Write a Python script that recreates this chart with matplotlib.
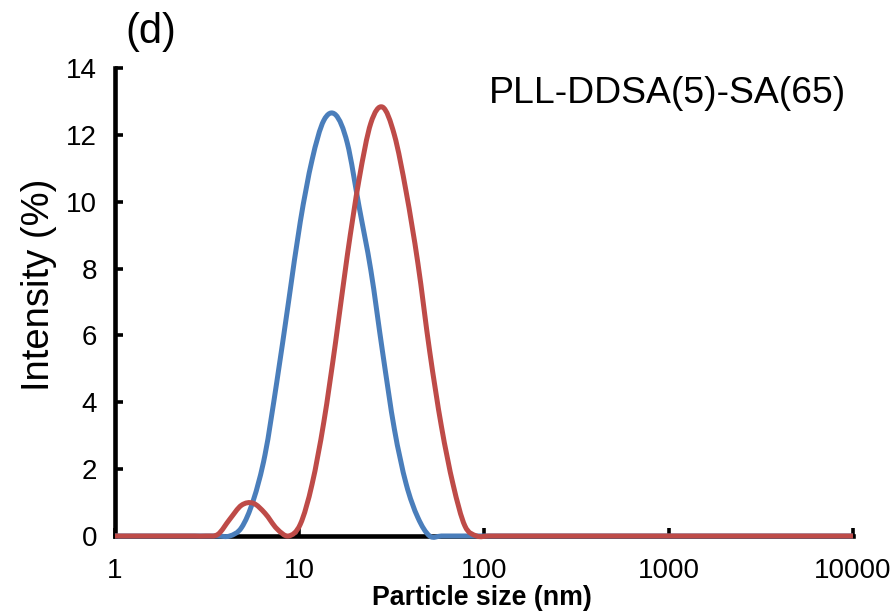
import numpy as np
import matplotlib.pyplot as plt
from matplotlib.path import Path
from matplotlib.patches import PathPatch
from matplotlib.transforms import Bbox, TransformedBbox

plt.rcParams['font.family'] = ['Liberation Sans', 'DejaVu Sans']

# DLS size bins (nm)
size_nm = [0.9649, 1.117, 1.294, 1.499, 1.736, 2.010, 2.328, 2.696, 3.122, 3.615,
           4.187, 4.849, 5.615, 6.503, 7.531, 8.721, 10.10, 11.70, 13.54, 15.69,
           18.17, 21.04, 24.36, 28.21, 32.67, 37.84, 43.82, 50.75, 58.77, 68.06,
           78.82, 91.28, 105.7, 122.4, 141.8, 164.2, 190.1, 220.2, 255.0, 295.3,
           342.0, 396.1, 458.7, 531.2, 615.1, 712.4, 825.0, 955.4, 1106, 1281,
           1484, 1718, 1990, 2305, 2669, 3091, 3580, 4145, 4801, 5560,
           6439, 7456, 8635, 10000]

# intensity (%) - blue series
blue = [0, 0, 0, 0, 0, 0, 0, 0, 0, 0,
        0, 0.25, 1.06, 2.43, 4.6, 7.0, 9.4, 11.25, 12.43, 12.6,
        11.75, 9.85, 7.95, 5.5, 3.2, 1.56, 0.55, 0, 0, 0,
        0, 0, 0, 0, 0, 0, 0, 0, 0, 0,
        0, 0, 0, 0, 0, 0, 0, 0, 0, 0,
        0, 0, 0, 0, 0, 0, 0, 0, 0, 0,
        0, 0, 0, 0]

# intensity (%) - red series
red = [0, 0, 0, 0, 0, 0, 0, 0, 0, 0.05,
       0.5, 0.92, 0.98, 0.68, 0.22, 0, 0.35, 1.55, 3.4, 5.8,
       8.4, 10.67, 12.35, 12.83, 12.0, 10.3, 8.16, 5.53, 3.28, 1.53,
       0.3, 0, 0, 0, 0, 0, 0, 0, 0, 0,
       0, 0, 0, 0, 0, 0, 0, 0, 0, 0,
       0, 0, 0, 0, 0, 0, 0, 0, 0, 0,
       0, 0, 0, 0]

xticks = [1, 10, 100, 1000, 10000]
yticks = [0, 2, 4, 6, 8, 10, 12, 14]


def smooth_path(x, y):
    # Excel-like smoothed line: cubic Bezier segments in log10(x) space
    lx = np.log10(x)
    y = np.asarray(y, dtype=float)
    n = len(lx)
    verts = [(lx[0], y[0])]
    codes = [Path.MOVETO]
    for i in range(n - 1):
        a = max(i - 1, 0)
        b = min(i + 2, n - 1)
        c1 = (lx[i] + (lx[i + 1] - lx[a]) / 6, y[i] + (y[i + 1] - y[a]) / 6)
        c2 = (lx[i + 1] - (lx[b] - lx[i]) / 6, y[i + 1] - (y[b] - y[i]) / 6)
        verts += [c1, c2, (lx[i + 1], y[i + 1])]
        codes += [Path.CURVE4] * 3
    v = np.array(verts)
    v[:, 0] = 10 ** v[:, 0]
    return Path(v, codes)


fig = plt.figure(figsize=(8.92, 6.12), dpi=100)
ax = fig.add_axes([0.1289, 0.1242, 0.9563 - 0.1289, 0.8889 - 0.1242])
ax.set_xscale('log')
ax.set_xlim(1, 10000)
ax.set_ylim(0, 14)

clip = TransformedBbox(Bbox([[1, -1], [10000, 15]]), ax.transData)
for vals, col in [(blue, '#4A7EBB'), (red, '#BE4B48')]:
    p = PathPatch(smooth_path(size_nm, vals), fill=False, edgecolor=col,
                  linewidth=3.6, capstyle='round', joinstyle='round', zorder=3)
    ax.add_patch(p)
    p.set_clip_box(clip)

for s in ['top', 'right']:
    ax.spines[s].set_visible(False)
for s in ['left', 'bottom']:
    ax.spines[s].set_linewidth(3.3)
    ax.spines[s].set_color('black')

ax.set_xticks(xticks)
ax.set_xticklabels([str(t) for t in xticks])
ax.xaxis.set_minor_locator(plt.NullLocator())
ax.set_yticks(yticks)
ax.set_yticklabels([str(t) for t in yticks])
ax.tick_params(axis='both', direction='in', length=6, width=2.6, labelsize=20)
ax.tick_params(axis='x', pad=16)
ax.tick_params(axis='y', pad=13)

ax.set_xlabel('Particle size (nm)', fontsize=19.3, fontweight='bold')
ax.xaxis.set_label_coords(0.497, -0.104)
ax.set_ylabel('Intensity (%)', fontsize=27.5)
ax.yaxis.set_label_coords(-0.079, 0.536)

ax.text(0.99, 0.945, 'PLL-DDSA(5)-SA(65)', transform=ax.transAxes,
        fontsize=26.9, ha='right', va='center')
fig.text(0.14, 0.948, '(d)', fontsize=30, ha='left', va='center')

fig.savefig('out.png', dpi=100)
